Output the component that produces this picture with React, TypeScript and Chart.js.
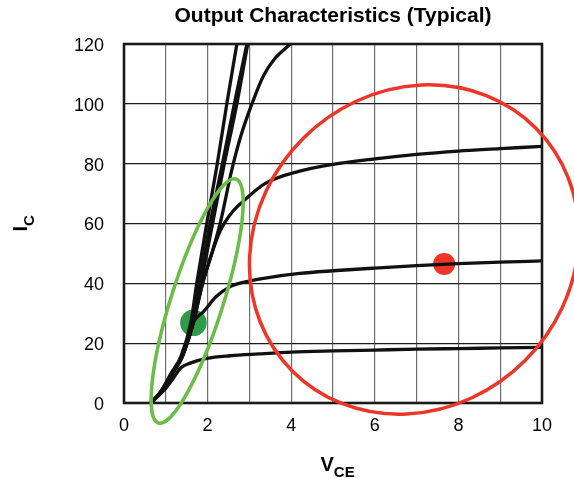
import React, { useEffect, useRef } from 'react';
import { Chart, registerables } from 'chart.js';

Chart.register(...registerables);

const FONT = 'Arial, "Liberation Sans", Helvetica, sans-serif';

// Axis ticks
const X_TICK_LABELS = [0, 2, 4, 6, 8, 10];
const Y_TICK_STEP = 20;

// Curve A (lowest)
const A_V = [0.63, 0.96, 1.18, 1.36, 1.6, 1.98, 2.54, 3.22, 4, 5, 6, 7, 8, 9, 10];
const A_I = [0, 4.3, 8.3, 11.8, 13.4, 14.9, 15.8, 16.4, 17, 17.4, 17.7, 18, 18.2, 18.4, 18.6];
// Curve B (~47 A)
const B_V = [0.64, 0.93, 1.17, 1.4, 1.66, 1.9, 2.2, 2.54, 2.94, 3.3, 4.2, 5, 6, 7, 8, 9, 10];
const B_I = [0, 4.3, 10, 15.5, 27, 30.5, 35.5, 38.9, 40.6, 41.6, 43.3, 44.2, 45.1, 45.9, 46.6, 47.1, 47.5];
// Curve C (~86 A)
const C_V = [0.64, 0.92, 1.16, 1.39, 1.66, 1.88, 2.1, 2.3, 2.6, 2.9, 3.38, 4.2, 5, 6, 7, 8, 9, 10];
const C_I = [0, 4.3, 10, 15.5, 27, 40, 50, 57.5, 64, 68, 73.4, 77.5, 79.8, 81.6, 83.1, 84.2, 85, 85.8];
// Curve D (bends, reaches 120 at ~4 V)
const D_V = [0.65, 0.92, 1.16, 1.39, 1.66, 1.88, 2.1, 2.3, 2.58, 2.8, 3.06, 3.34, 3.6, 3.98];
const D_I = [0, 4.3, 10, 15.5, 27, 40, 50, 60, 78, 89.5, 100, 109.5, 115, 120];
// Steep curves
const L1_V = [0.66, 0.9, 1.13, 1.36, 1.6, 1.74, 1.98, 2.22, 2.46, 2.7];
const L1_I = [0, 4.3, 10, 15.5, 27, 40, 60, 79, 100, 120];
const L2_V = [0.66, 0.91, 1.14, 1.38, 1.64, 1.8, 2.06, 2.34, 2.64, 2.94];
const L2_I = [0, 4.3, 10, 15.5, 27, 40, 60, 79, 100, 120];
const L3_V = [0.65, 0.91, 1.15, 1.39, 1.66, 1.84, 2.12, 2.4, 2.7, 2.96];
const L3_I = [0, 4.3, 10, 15.5, 27, 40, 60, 80, 100, 120];

// Highlight points
const GREEN_DOT = [1.66, 26.8];
const RED_DOT = [7.66, 46.5];

// Highlight rings: centre in data units
const GREEN_RING_CENTER = [1.75, 34.1];
const RED_RING_CENTER = [6.94, 51.3];

const BLACK = '#111111';
const RED = '#ee3528';
const GREEN_RING = '#6abd46';
const GREEN_DOT_COLOR = '#2f9a48';

const zip = (v: number[], i: number[]) => v.map((x, k) => ({ x, y: i[k] }));

const overlay = {
  id: 'overlay',
  afterDatasetsDraw(chart: any) {
    const ctx = chart.ctx;
    const { left, top, right, bottom } = chart.chartArea;
    const xs = chart.scales.x;
    const ys = chart.scales.y;
    ctx.save();
    ctx.strokeStyle = '#1a1a1a';
    ctx.lineWidth = 2.6;
    ctx.strokeRect(left, top, right - left, bottom - top);

    // green ring
    ctx.lineWidth = 3.5;
    ctx.strokeStyle = GREEN_RING;
    ctx.beginPath();
    ctx.ellipse(
      xs.getPixelForValue(GREEN_RING_CENTER[0]),
      ys.getPixelForValue(GREEN_RING_CENTER[1]),
      128, 26, -1.263, 0, Math.PI * 2
    );
    ctx.stroke();

    // red ring
    ctx.strokeStyle = RED;
    ctx.beginPath();
    ctx.ellipse(
      xs.getPixelForValue(RED_RING_CENTER[0]),
      ys.getPixelForValue(RED_RING_CENTER[1]),
      172, 157, -Math.PI / 4, 0, Math.PI * 2
    );
    ctx.stroke();
    ctx.restore();
  },
  afterDraw(chart: any) {
    const ctx = chart.ctx;
    const { left, right } = chart.chartArea;
    ctx.save();
    ctx.fillStyle = '#000';
    // title
    ctx.font = `bold 21px ${FONT}`;
    ctx.textAlign = 'center';
    ctx.textBaseline = 'middle';
    ctx.fillText('Output Characteristics (Typical)', (left + right) / 2, 16);

    // x-axis title V_CE
    ctx.textAlign = 'left';
    ctx.textBaseline = 'alphabetic';
    ctx.font = `bold 20px ${FONT}`;
    const vw = ctx.measureText('V').width;
    ctx.fillText('V', 320.5, 470.7);
    ctx.font = `bold 15px ${FONT}`;
    ctx.fillText('CE', 320.5 + vw, 476.7);

    // y-axis title I_C
    ctx.translate(27, 231.5);
    ctx.rotate(-Math.PI / 2);
    ctx.font = `bold 20px ${FONT}`;
    const iw = ctx.measureText('I').width;
    ctx.fillText('I', 0, 0);
    ctx.font = `bold 15px ${FONT}`;
    ctx.fillText('C', iw, 6.5);
    ctx.restore();
  },
};

export default function App() {
  const ref = useRef<HTMLCanvasElement>(null);
  useEffect(() => {
    if (!ref.current) return;
    const curves: [number[], number[]][] = [
      [A_V, A_I], [B_V, B_I], [C_V, C_I], [D_V, D_I],
      [L1_V, L1_I], [L2_V, L2_I], [L3_V, L3_I],
    ];
    const chart = new Chart(ref.current, {
      type: 'scatter',
      data: {
        datasets: [
          ...curves.map(([v, i]) => ({
            data: zip(v, i),
            showLine: true,
            borderColor: BLACK,
            backgroundColor: BLACK,
            borderWidth: 3.3,
            pointRadius: 0,
            pointHoverRadius: 0,
            cubicInterpolationMode: 'monotone' as const,
            fill: false,
          })),
          {
            data: [{ x: GREEN_DOT[0], y: GREEN_DOT[1] }],
            pointRadius: 13.3,
            backgroundColor: GREEN_DOT_COLOR,
            borderWidth: 0,
            showLine: false,
          },
          {
            data: [{ x: RED_DOT[0], y: RED_DOT[1] }],
            pointRadius: 11,
            backgroundColor: RED,
            borderWidth: 0,
            showLine: false,
          },
        ],
      },
      options: {
        responsive: false,
        animation: false,
        layout: { padding: { top: 44, right: 32, left: 0, bottom: 0 } },
        plugins: {
          legend: { display: false },
          tooltip: { enabled: false },
          title: { display: false },
        },
        scales: {
          x: {
            type: 'linear',
            min: 0,
            max: 10,
            afterFit: (s: any) => { s.height = 75; },
            ticks: {
              stepSize: 1,
              autoSkip: false,
              maxRotation: 0,
              padding: 12,
              color: '#000',
              font: { family: FONT, size: 18 },
              callback: (v: any) => (X_TICK_LABELS.includes(Number(v)) ? String(v) : ''),
            },
            grid: { color: '#6e6e6e', lineWidth: 1.2, drawTicks: false },
            border: { display: false },
          },
          y: {
            type: 'linear',
            min: 0,
            max: 120,
            afterFit: (s: any) => { s.width = 124; },
            ticks: {
              stepSize: Y_TICK_STEP,
              padding: 20,
              labelOffset: 2,
              color: '#000',
              font: { family: FONT, size: 18 },
            },
            grid: { color: '#1e1e1e', lineWidth: 1.2, drawTicks: false },
            border: { display: false },
          },
        },
      },
      plugins: [overlay],
    } as any);
    return () => chart.destroy();
  }, []);
  return (
    <canvas
      ref={ref}
      width={574}
      height={478}
      style={{ position: 'fixed', left: 0, top: 0, display: 'block' }}
    />
  );
}
